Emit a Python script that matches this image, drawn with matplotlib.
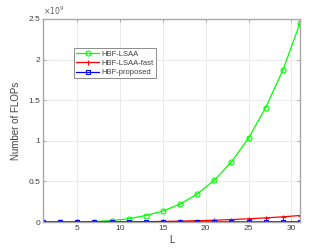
import numpy as np
import matplotlib
matplotlib.use('Agg')
import matplotlib.pyplot as plt

# data (units of 1e9 flops)
L = [1, 3, 5, 7, 9, 11, 13, 15, 17, 19, 21, 23, 25, 27, 29, 31]
lsaa = [0.0, 0.0, 0.001, 0.005, 0.018, 0.040, 0.080, 0.135, 0.220, 0.345,
        0.515, 0.740, 1.035, 1.410, 1.870, 2.450]
lsaa_fast = [0.0, 0.0, 0.0, 0.0005, 0.001, 0.002, 0.004, 0.007, 0.011, 0.016,
             0.022, 0.030, 0.040, 0.051, 0.064, 0.080]
proposed = [0.0, 0.0, 0.0, 0.0, 0.0, 0.0001, 0.0002, 0.0003, 0.0005, 0.0007,
            0.001, 0.0013, 0.0017, 0.0022, 0.0028, 0.0035]
labels = ['HBF-LSAA', 'HBF-LSAA-fast', 'HBF-proposed']

plt.rcParams['font.family'] = ['Liberation Sans', 'DejaVu Sans']
txt = '#404040'

fig = plt.figure(figsize=(3.32, 2.49), dpi=100)
ax = fig.add_axes([0.1295, 0.1084, 0.7741, 0.8153])

scale = 1e9
ax.plot(L, np.array(lsaa) * scale, color='#00ff00', lw=0.9, marker='o', ms=3.6,
        mfc='none', mew=0.8, label=labels[0])
ax.plot(L, np.array(lsaa_fast) * scale, color='#ff0000', lw=0.9, marker='+', ms=3.6,
        mew=0.8, label=labels[1])
ax.plot(L, np.array(proposed) * scale, color='#0000ff', lw=0.9, marker='s', ms=3.2,
        mfc='none', mew=0.8, label=labels[2])

ax.set_xlim(1, 31)
ax.set_ylim(0, 2.5e9)
ax.set_xticks([5, 10, 15, 20, 25, 30])
ax.set_yticks(np.arange(0, 2.51, 0.5) * scale)
ax.set_yticklabels(['0', '0.5', '1', '1.5', '2', '2.5'])
ax.grid(True, color='#e6e6e6', lw=0.6)
ax.set_axisbelow(True)
ax.tick_params(direction='in', length=2.5, width=0.5, labelsize=6,
               colors='#909090', labelcolor=txt, top=True, right=True, pad=2)
for s in ax.spines.values():
    s.set_color('#a8a8a8')
    s.set_linewidth(1.0)

ax.text(0.0, 1.01, r'$\times10^9$', transform=ax.transAxes, fontsize=5.5,
        color='#606060', ha='left', va='bottom')
ax.set_xlabel('L', fontsize=7, color=txt, labelpad=2)
ax.set_ylabel('Number of FLOPs', fontsize=7, color=txt, labelpad=5)

leg = ax.legend(loc='upper left', bbox_to_anchor=(0.12, 0.857), fontsize=5.5,
                frameon=True, fancybox=False, edgecolor='#707070',
                handlelength=3.0, borderpad=0.3, labelspacing=0.25,
                handletextpad=0.3, borderaxespad=0)
leg.get_frame().set_linewidth(0.7)
for t in leg.get_texts():
    t.set_color(txt)

fig.savefig('out.png', dpi=100)
